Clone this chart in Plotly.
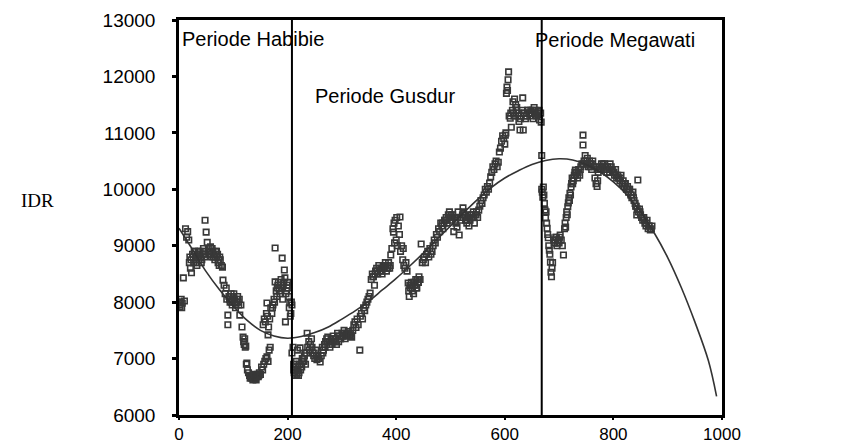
import plotly.graph_objects as go

# ---------------- data ----------------
habibie_x = [0, 2, 4, 6, 8, 10, 12, 14, 16, 18,
             19, 21, 23, 25, 27, 29, 31, 33, 35, 37,
             39, 41, 43, 45, 47, 48, 50, 52, 54, 56,
             58, 60, 62, 64, 66, 68, 70, 72, 74, 76,
             78, 80, 81, 83, 85, 87, 88, 90, 90, 92,
             94, 96, 98, 100, 102, 104, 106, 108, 110, 112,
             114, 116, 118, 119, 120, 121, 122, 123, 124, 125,
             126, 128, 130, 132, 134, 136, 138, 140, 142, 144,
             146, 148, 150, 152, 154, 156, 158, 160, 162, 164,
             166, 168,
             155, 157, 159, 161, 162, 163, 164, 165, 167, 169,
             171, 173, 175, 177, 177, 179, 180, 182, 184, 186,
             188, 190, 191, 192, 194, 195, 196, 198, 200, 202,
             203, 204, 205, 206, 207, 208, 208,
             1, 3, 5, 20, 22, 26, 28, 30, 32, 34,
             36, 38, 40, 42, 44, 46, 57, 59, 61, 63,
             65, 67, 69, 71, 73, 75, 93, 95, 97, 99,
             101, 103, 105, 107, 109, 111, 131, 133, 135, 137,
             139, 141, 143, 145, 147, 172, 176, 181, 183, 185,
             187, 189, 193, 197, 199, 201]
habibie_y = [8000, 7920, 8050, 7980, 8430, 8020, 9300, 9150, 9250, 9100,
             8700, 8600, 8520, 8850, 8700, 8900, 8780, 8650, 8850, 8750,
             8900, 8700, 8850, 8950, 8800, 9450, 9240, 9060, 8950, 8850,
             8980, 8800, 8900, 8850, 8750, 8900, 8800, 8700, 8650, 8750,
             8650, 8620, 8390, 8300, 8150, 8250, 8050, 7770, 7600, 8100,
             8000, 8150, 7950, 8100, 8050, 7900, 8000, 8100, 7950, 7770,
             7950, 7560, 7380, 7300, 7250, 7350, 7200, 7220, 6900, 6920,
             6800, 6750, 6700, 6680, 6650, 6620, 6700, 6660, 6620, 6700,
             6680, 6750, 6720, 6850, 6800, 6900, 6950, 7000, 7030, 6950,
             7150, 7200,
             7600, 7700, 7650, 7800, 7985, 7750, 7420, 7560, 7700, 7900,
             7800, 7950, 8050, 8360, 8960, 8200, 8100, 8300, 8250, 8150,
             8400, 8780, 8050, 8300, 8570, 8430, 7650, 8200, 8350, 8100,
             7900, 7985, 7750, 7800, 8000, 7100, 7950,
             7950, 8000, 7900, 8800, 8750, 8800, 8900, 8850, 8700, 8800,
             8900, 8850, 8800, 8750, 8900, 8850, 8900, 8850, 8950, 8800,
             8850, 8800, 8900, 8850, 8750, 8800, 8050, 8100, 8000, 8050,
             8150, 8000, 7950, 8050, 8000, 8050, 6650, 6700, 6680, 6650,
             6720, 6640, 6680, 6720, 6700, 7900, 8000, 8250, 8350, 8200,
             8300, 8250, 8350, 8150, 8300, 8250]

gusdur_x = [210, 211, 212, 213, 214, 215, 216, 217, 218, 219,
            220, 222, 223, 224, 226, 228, 229, 231, 233, 235,
            236, 237, 239, 240, 242, 244, 246, 248, 250, 252,
            254, 256, 258, 260, 262, 264, 266, 268, 270, 272,
            274, 276, 278, 280, 282, 284, 286, 288, 290, 292,
            294, 296, 298, 300, 302, 304, 306, 308, 310, 312,
            314, 316, 318, 320, 322, 324, 326, 328, 330, 333,
            334, 336, 338, 340, 342, 344, 346, 348, 350, 352,
            354, 356, 358, 360, 362, 364, 366, 368, 370, 372,
            374, 376, 378, 380, 382, 384, 386, 388, 390, 392,
            394, 395, 396, 397, 398, 400, 401, 402, 404, 406,
            407, 408, 410, 412, 413, 414, 416, 418, 420, 422,
            423, 424, 425, 426, 428, 430, 432, 434, 436, 438,
            440, 442, 444, 446, 448, 450, 452, 454, 456, 458,
            460, 462, 464, 466, 468, 470, 472, 474, 476, 478,
            480, 482, 484, 486, 488, 490, 492, 494, 496, 498,
            500, 502, 504, 506, 508, 510, 512, 514, 516, 518,
            520, 522, 523, 524, 526, 528, 530, 532, 534, 536,
            538, 540, 542, 544, 546, 548, 550, 552, 554, 556,
            558, 560, 562, 564, 566, 568, 570, 572, 574, 576,
            578, 580, 582, 584, 586, 588, 590, 592, 594, 596,
            598, 600, 601, 602, 603, 604, 605, 606, 607, 608,
            610, 612, 614, 615, 616, 618, 620, 622, 624, 626,
            628, 630, 632, 633, 634, 636, 638, 640, 642, 644,
            646, 648, 650, 652, 654, 656, 658, 660, 662, 664,
            666, 667, 668,
            211, 213, 215, 217, 219, 221, 225, 227, 230, 232,
            245, 249, 253, 257, 265, 269, 273, 277, 281, 285,
            289, 293, 297, 301, 305, 309, 313, 317, 357, 361,
            365, 369, 373, 377, 381, 385, 389, 427, 429, 431,
            433, 435, 437, 439, 441, 485, 489, 493, 497, 501,
            505, 509, 513, 527, 531, 535, 539, 543, 547, 611,
            617, 621, 625, 629, 635, 639, 643, 647, 651, 655,
            659, 663]
gusdur_y = [7200, 6900, 6750, 6800, 6700, 6850, 6950, 6720, 7150, 6800,
            6700, 6900, 7190, 6800, 6850, 6950, 7000, 7050, 6900, 7100,
            7450, 7200, 7300, 7150, 7250, 7350, 7100, 7050, 7000, 7150,
            6980, 7050, 7000, 6940, 7050, 7200, 7150, 7250, 7300, 7350,
            7380, 7300, 7200, 7350, 7250, 7400, 7300, 7350, 7250, 7450,
            7300, 7400, 7350, 7450, 7400, 7500, 7350, 7450, 7400, 7480,
            7420, 7450, 7380, 7500, 7600, 7650, 7550, 7700, 7600, 7150,
            7750, 7800, 7700, 7900, 7850, 7950, 8000, 8050, 8100, 8160,
            8400, 8500, 8450, 8300, 8550, 8600, 8500, 8650, 8550, 8600,
            8500, 8650, 8600, 8700, 8550, 8650, 8700, 8600, 8835, 8950,
            9300, 9240, 9400, 9050, 9450, 9100, 9500, 9000, 9350, 9200,
            9510, 8900, 9000, 8750, 8950, 8650, 8600, 8700, 8550, 8340,
            8200, 8100, 8300, 8250, 8350, 8200, 8150, 8300, 8400, 8250,
            8350, 8450, 8400, 9030, 8700, 8750, 8800, 8700, 8850, 8900,
            8800, 8950, 8850, 8900, 9000, 9100, 9050, 9200, 9150, 9300,
            9250, 9400, 9350, 9300, 9400, 9450, 9500, 9400, 9550, 9600,
            9500, 9450, 9550, 9250, 9500, 9400, 9330, 9600, 9190, 9450,
            9500, 9550, 9670, 9600, 9550, 9450, 9400, 9500, 9350, 9450,
            9550, 9500, 9600, 9400, 9550, 9600, 9500, 9630, 9700, 9800,
            9750, 9850, 9900, 10000, 9950, 10050, 10000, 10110, 10220, 10300,
            10400, 10350, 10450, 10500, 10400, 10480, 10660, 10730, 10850, 10950,
            10900, 10800, 10960, 11000, 11700, 11810, 11750, 11940, 12080, 11300,
            11260, 11100, 11400, 11550, 11350, 11600, 11500, 11450, 11300, 11200,
            11050, 11300, 11400, 11620, 11050, 11350, 11250, 11300, 11400, 11350,
            11300, 11400, 11350, 11250, 11450, 11400, 11300, 11350, 11380, 11230,
            11350, 11190, 10600,
            6800, 6750, 6900, 6800, 6850, 6750, 6900, 7000, 6950, 7100,
            7200, 7100, 7050, 7000, 7100, 7200, 7300, 7250, 7300, 7350,
            7300, 7400, 7350, 7400, 7450, 7400, 7450, 7400, 8450, 8500,
            8550, 8600, 8550, 8600, 8650, 8600, 8650, 8300, 8250, 8300,
            8350, 8300, 8250, 8400, 8350, 9400, 9450, 9450, 9500, 9550,
            9500, 9450, 9500, 9500, 9450, 9500, 9550, 9500, 9550, 11350,
            11300, 11400, 11350, 11250, 11350, 11300, 11400, 11350, 11400, 11350,
            11300, 11400]

megawati_x = [668, 669, 670, 671, 672, 673, 674, 675, 676, 677,
              678, 679, 680, 681, 682, 683, 684, 685, 686, 687,
              688, 690, 692, 694, 696, 698, 700, 702, 704, 706,
              708, 710, 711, 712, 713, 714, 715, 716, 717, 718,
              719, 720, 721, 722, 723, 724, 726, 728, 730, 732,
              734, 736, 738, 740, 742, 744, 744, 746, 748, 750,
              752, 754, 756, 758, 760, 762, 764, 766, 768, 770,
              771, 772, 774, 776, 778, 780, 782, 784, 786, 788,
              790, 792, 794, 796, 798, 800, 802, 804, 806, 808,
              810, 812, 814, 816, 818, 820, 822, 824, 826, 828,
              830, 832, 834, 836, 838, 840, 842, 843, 844, 845,
              846, 848, 850, 852, 854, 856, 858, 860, 862, 864,
              866, 868, 870, 871,
              691, 693, 695, 697, 699, 701, 725, 727, 729, 731,
              735, 739, 745, 749, 753, 757, 761, 773, 777, 781,
              785, 789, 793, 797, 801, 805, 809, 813, 817, 821,
              825, 829, 833, 837, 841, 849, 853, 857, 861, 865]
megawati_y = [10000, 9950, 9860, 10040, 9900, 9750, 9630, 9490, 9600, 9400,
              9310, 9200, 9140, 9000, 8920, 8850, 8710, 8530, 8450, 8600,
              8700, 9100, 9050, 9150, 9000, 9100, 9050, 9190, 9100, 9000,
              8835, 9300, 9400, 9330, 9500, 9600, 9550, 9690, 9760, 9850,
              9800, 9930, 9900, 10040, 10100, 10200, 10150, 10250, 10340, 10300,
              10200, 10350, 10250, 10400, 10450, 10785, 10960, 10500, 10600, 10450,
              10550, 10400, 10500, 10450, 10350, 10500, 10400, 10200, 10100, 10050,
              10150, 10300, 10400, 10350, 10450, 10400, 10350, 10450, 10400, 10300,
              10400, 10350, 10450, 10400, 10350, 10300, 10250, 10350, 10200, 10250,
              10200, 10150, 10250, 10100, 10150, 10050, 10100, 10000, 10050, 9950,
              10000, 9900, 9850, 9950, 9800, 9750, 9700, 9545, 9650, 10165,
              9600, 9650, 9550, 9500, 9450, 9500, 9400, 9350, 9450, 9300,
              9350, 9280, 9300, 9350,
              9050, 9100, 9150, 9050, 9100, 9150, 10100, 10200, 10300, 10250,
              10300, 10350, 10450, 10500, 10450, 10400, 10450, 10350, 10400, 10450,
              10350, 10400, 10300, 10350, 10300, 10250, 10200, 10200, 10100, 10100,
              10000, 10000, 9900, 9850, 9700, 9600, 9500, 9450, 9400, 9350]

fit_x = [0, 25, 50, 75, 100, 125, 150, 175, 200, 225,
         250, 275, 300, 325, 350, 375, 400, 425, 450, 475,
         500, 525, 550, 575, 600, 625, 650, 675, 700, 725,
         750, 775, 800, 825, 850, 875, 900, 925, 950, 975, 990]
fit_y = [9310, 8930, 8540, 8215, 7930, 7680, 7500, 7400, 7360, 7390,
         7460, 7560, 7700, 7850, 8020, 8220, 8420, 8640, 8870, 9110,
         9350, 9590, 9820, 10030, 10200, 10330, 10440, 10510, 10540, 10520,
         10440, 10310, 10130, 9900, 9600, 9230, 8790, 8260, 7650, 6960, 6330]

period_boundaries = [208, 668]
period_labels = ["Periode Habibie", "Periode Gusdur", "Periode Megawati"]
period_label_x = [2, 247, 652]
period_label_y = [12660, 11650, 12645]

x_ticks = [0, 200, 400, 600, 800, 1000]
x_tick_text = ["0", "200", "400", "600", "800", "1000"]
y_ticks = [6000, 7000, 8000, 9000, 10000, 11000, 12000, 13000]
y_tick_text = ["6000", "7000", "8000", "9000", "10000", "11000", "12000", "13000"]
rsq_text = "Rsq = 0,7929"

# ---------------- figure ----------------
obs_x = habibie_x + gusdur_x + megawati_x
obs_y = habibie_y + gusdur_y + megawati_y

fig = go.Figure()
fig.add_trace(go.Scatter(
    x=obs_x, y=obs_y, mode="markers",
    marker=dict(symbol="square-open", size=5.5, color="#383838",
                line=dict(width=1.6, color="#383838")),
    showlegend=False, hoverinfo="skip"))
fig.add_trace(go.Scatter(
    x=fit_x, y=fit_y, mode="lines", line_shape="spline",
    line=dict(color="#333333", width=1.6),
    showlegend=False, hoverinfo="skip"))

for b in period_boundaries:
    fig.add_shape(type="line", xref="x", yref="y", x0=b, x1=b, y0=6000, y1=13000,
                  line=dict(color="black", width=2))

for t, lx, ly in zip(period_labels, period_label_x, period_label_y):
    fig.add_annotation(x=lx, y=ly, xref="x", yref="y", text=t, showarrow=False,
                       xanchor="left", yanchor="middle",
                       font=dict(family="Liberation Sans, Arial", size=20, color="black"))

fig.add_annotation(x=1017, y=6530, xref="x", yref="y", text=rsq_text, showarrow=False,
                   xanchor="left", yanchor="middle",
                   font=dict(family="Liberation Serif, Times New Roman", size=19, color="black"))
fig.add_annotation(x=-0.26, y=9800, xref="paper", yref="y", text="IDR", showarrow=False,
                   xanchor="center", yanchor="middle",
                   font=dict(family="Liberation Serif, Times New Roman", size=19, color="black"))

axis_common = dict(showgrid=False, zeroline=False, showline=True, linecolor="black",
                   linewidth=2.5, mirror=True, ticks="outside", tickcolor="black",
                   automargin=False)
fig.update_xaxes(range=[0, 1000], tickvals=x_ticks, ticktext=x_tick_text, ticklen=2,
                 tickwidth=2, ticklabelstandoff=0,
                 tickfont=dict(family="Liberation Sans, Arial", size=17, color="black"),
                 **axis_common)
fig.update_yaxes(range=[6000, 13000], tickvals=y_ticks, ticktext=y_tick_text, ticklen=4,
                 tickwidth=3, ticklabelstandoff=13,
                 tickfont=dict(family="Liberation Sans, Arial", size=19, color="black"),
                 **axis_common)

fig.update_layout(width=847, height=444, margin=dict(l=179, r=125, t=20, b=29),
                  plot_bgcolor="white", paper_bgcolor="white")

fig.write_html("out.html")
